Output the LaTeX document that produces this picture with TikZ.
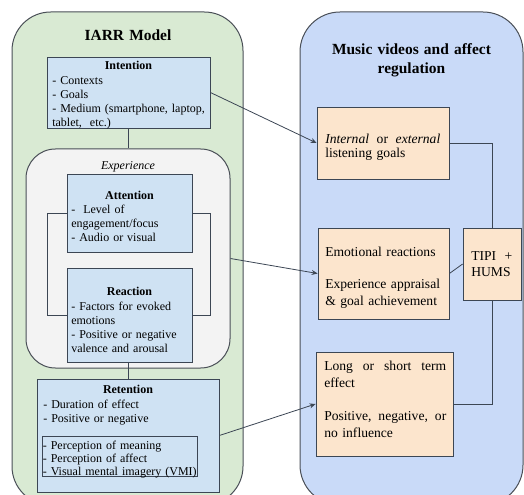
\documentclass[tikz,border=0pt]{standalone}
\usepackage{fontspec}
\setmainfont{Liberation Serif}
\usetikzlibrary{arrows.meta,fit}

\definecolor{greenbg}{HTML}{D9EAD3}
\definecolor{bluebg}{HTML}{C9DAF8}
\definecolor{boxblue}{HTML}{CFE2F3}
\definecolor{peach}{HTML}{FCE5CD}
\definecolor{expgray}{HTML}{F3F3F3}
\definecolor{edgec}{HTML}{4A4F57}
\definecolor{wirec}{HTML}{3C4654}

% a line of fixed width with its words spread evenly
\newcommand{\spreadline}[2]{\leavevmode\hbox to #1{#2}}

\begin{document}
\begin{tikzpicture}[x=0.75pt,y=-0.75pt,
  panel/.style={draw=edgec, line width=0.75pt, inner sep=0pt},
  bbox/.style={draw=wirec, line width=0.6pt, fill=boxblue, inner sep=0pt},
  pbox/.style={draw=wirec, line width=0.6pt, fill=peach, inner sep=0pt},
  head/.style={font=\bfseries\fontsize{9}{10.5}\selectfont, anchor=base, inner sep=0pt},
  ltxt/.style={font=\fontsize{9}{10.5}\selectfont, anchor=base west, inner sep=0pt,
               text width=130pt, align=left},
  rtxt/.style={font=\fontsize{10.2}{#1}\selectfont, anchor=base west, inner sep=0pt,
               text width=100pt, align=left},
  rtxt/.default=12pt,
  ttl/.style={font=\bfseries\fontsize{11.6}{14.25}\selectfont, anchor=base, inner sep=0pt,
              text width=170pt, align=center},
  link/.style={draw=wirec, line width=0.6pt},
  arr/.style={link, -{Stealth[length=4.5pt,width=3.75pt]}}
]
\useasboundingbox (0,0) rectangle (524,495);

% ---- the two panels ----
\node[panel, fill=greenbg, rounded corners=29pt, fit={(12,12) (243,505)}] (iarr) {};
\node[panel, fill=bluebg,  rounded corners=30pt, fit={(300,12) (523,505)}] (mv) {};

\node[ttl] (iarrT) at (128,41) {IARR Model};
\node[ttl] (mvT) at (411.5,54.5) {Music videos and affect\\regulation};

% ---- IARR model ----
\node[bbox, fit={(47,57) (210,128)}] (int) {};
\node[head] (intH) at (128.5,70) {Intention};
\node[ltxt] (intL) at (52,85) {- Contexts\\- Goals\\- Medium (smartphone, laptop,\\tablet,\ \ etc.)};

\node[panel, fill=expgray, rounded corners=22pt, fit={(26,149) (230,368)}] (exp) {};
\node[head, font=\itshape\fontsize{9}{10.5}\selectfont] (expH) at (128,170) {Experience};

\node[bbox, fit={(67,174) (192,252)}] (att) {};
\node[bbox, fit={(67,268) (192,362)}] (rea) {};

% side brackets joining attention and reaction
\draw[link] (att.west) -- ++(-19,0) |- (rea.west);
\draw[link] (att.east) -- ++(18,0) |- (rea.east);

\node[head] (attH) at (129.5,199.5) {Attention};
\node[ltxt] (attL) at (71,214) {-\ \ Level of\\engagement/focus\\- Audio or visual};
\node[head] (reaH) at (129.5,295) {Reaction};
\node[ltxt] (reaL) at (71,310) {- Factors for evoked\\emotions\\- Positive or negative\\valence and arousal};

\node[bbox, fit={(37,379) (219,492)}] (ret) {};
\node[head] (retH) at (128,393.5) {Retention};
\node[ltxt] (retL) at (43,408) {- Duration of effect\\- Positive or negative};
\node[bbox, fit={(42,436) (197,476)}] (retin) {};
\node[ltxt, font=\fontsize{9}{10.1}\selectfont] (retinL) at (42.5,449) {- Perception of meaning\\- Perception of affect\\- Visual mental imagery (VMI)};

\draw[link] (int.south) -- (int.south |- exp.north);
\draw[link] (rea.south -| ret.north) -- (ret.north);

% ---- music videos and affect regulation ----
\node[pbox, fit={(317,107) (449,179)}] (goals) {};
\node[rtxt=10.7pt] (goalsL) at (325,143.5) {\spreadline{86.25pt}{\textit{Internal} \hfill or \hfill \textit{external}}\\listening goals};

\node[pbox, fit={(318,228) (449,319)}] (emo) {};
\node[rtxt=12.3pt] (emoL) at (325,256.5) {Emotional reactions\\[12pt]Experience appraisal\\\& goal achievement};

\node[pbox, fit={(463,228) (521,300)}] (tipi) {};
\node[rtxt=12pt] (tipiL) at (471,260.5) {\spreadline{30.75pt}{TIPI \hfill +}\\HUMS};

\node[pbox, fit={(316,352) (453,456)}] (eff) {};
\node[rtxt=13.1pt] (effL) at (324,370) {\spreadline{91.5pt}{Long \hfill or \hfill short \hfill term}\\effect\\[11.5pt]\spreadline{91.5pt}{Positive, \hfill negative, \hfill or}\\no influence};

\draw[link] (goals.east) -| (tipi.north);
\draw[link] (emo.east) -- (tipi.west);
\draw[link] (tipi.south) |- (eff.east);

% ---- links between the panels ----
\draw[arr] (int.east) -- (goals.west);
\draw[arr] (exp.east) -- (emo.west);
\draw[arr] (ret.east) -- (eff.west);
\end{tikzpicture}
\end{document}
